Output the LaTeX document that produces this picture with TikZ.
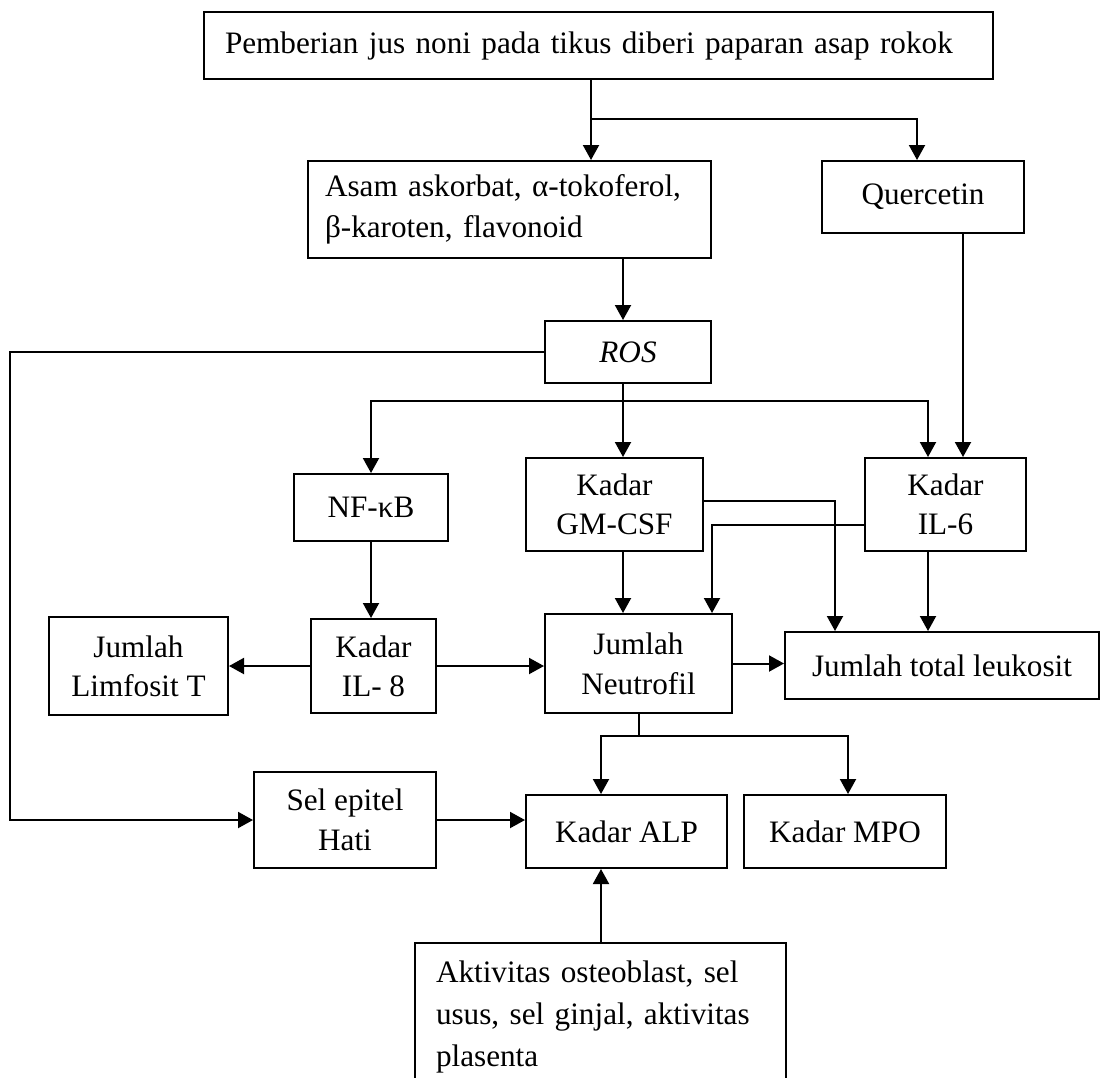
\documentclass[tikz,border=0pt]{standalone}
\usepackage{fontspec}
\setmainfont{Liberation Serif}
\usepackage{tikz}
\usetikzlibrary{positioning, arrows.meta}

\begin{document}
\begin{tikzpicture}[x=0.5pt, y=-0.5pt, line width=1pt, >={Triangle[length=7.5pt, width=8pt]},
  every node/.style={rectangle, draw, line width=1pt, inner sep=0pt, align=center, font=\fontsize{15.6pt}{19.5pt}\selectfont},
  leftbox/.style={align=left, inner xsep=10.5pt, inner ysep=0pt}]
\useasboundingbox (0,0) rectangle (1102,1077);

\node (top) [leftbox, text width=373.5pt, minimum height=33.5pt] at (598.5,45.5) {Pemberian jus noni pada tikus diberi paparan asap rokok};
\node (asam) [leftbox, inner xsep=8.5pt, text width=184.5pt, minimum height=48.5pt, font=\fontsize{15.6pt}{20.5pt}\selectfont] at (509.5,209.5) {Asam askorbat, α-tokoferol,\\β-karoten, flavonoid};
\node (quer) [minimum width=101pt, minimum height=36pt] at (923,197) {Quercetin};
\node (ros) [minimum width=83pt, minimum height=31pt] at (628,352) {\textit{ROS}};

\node (nfkb) [minimum width=77pt, minimum height=33.5pt] at (371,507.5) {NF-κB};
\node (gmcsf) [minimum width=88.5pt, minimum height=46.5pt] at (614.5,504.5) {Kadar\\GM-CSF};
\node (il6) [right=80pt of gmcsf, minimum width=80.5pt, minimum height=46.5pt] {Kadar\\IL-6};

\node (il8) [minimum width=62.5pt, minimum height=47pt] at (373.5,666) {Kadar\\IL- 8};
\node (limf) [left=40.5pt of il8, minimum width=89.5pt, minimum height=49pt] {Jumlah\\Limfosit T};
\node (neut) [minimum width=93.5pt, minimum height=49.5pt, font=\fontsize{15.6pt}{20pt}\selectfont] at (638.5,663.5) {Jumlah\\Neutrofil};
\node (leuk) [minimum width=157pt, minimum height=33.5pt] at (942,665.5) {Jumlah total leukosit};

\node (sel) [minimum width=91pt, minimum height=48pt, font=\fontsize{15.6pt}{20pt}\selectfont] at (345,820) {Sel epitel\\Hati};
\node (alp) [minimum width=100.5pt, minimum height=36.5pt] at (626.5,831.5) {Kadar ALP};
\node (mpo) [right=7.5pt of alp, minimum width=101pt, minimum height=36.5pt] {Kadar MPO};
\node (akt) [leftbox, text width=164.5pt, minimum height=74pt, font=\fontsize{15.6pt}{21pt}\selectfont] at (600.5,1017) {Aktivitas osteoblast, sel\\usus, sel ginjal, aktivitas\\plasenta};

% Junctions and line columns
\coordinate (j1) at (591,119);
\coordinate (qa) at (917,0);
\coordinate (mid) at (623,401);
\coordinate (qx) at (963,0);
\coordinate (ix) at (928,0);
\coordinate (gx) at (835,0);
\coordinate (nx) at (712,0);
\coordinate (nj) at (639,736);
\coordinate (ax) at (601,0);
\coordinate (mx) at (848,0);
\coordinate (lp) at (10,600);

% Arrows from the top
\draw (top.south -| j1) -- (j1);
\draw[->] (j1) -- (asam.north -| j1);
\draw[->] (j1) -| (quer.north -| qa);
\draw[->] (asam.south -| mid) -- (ros.north -| mid);

% Arrows from ROS
\draw (ros.south -| mid) -- (mid);
\draw[->] (mid) -| (nfkb.north);
\draw[->] (mid) -- (gmcsf.north -| mid);
\draw[->] (mid) -| (il6.north -| ix);
\draw[->] (quer.south -| qx) -- (il6.north -| qx);
\draw[->] (ros.west) -| (lp) |- (sel.west);

% Middle row
\draw[->] ([yshift=1.75pt]gmcsf.east) -| (leuk.north -| gx);
\draw[->] ([yshift=-10.25pt]il6.west) -| (neut.north -| nx);
\draw[->] (gmcsf.south -| mid) -- (neut.north -| mid);
\draw[->] (il6.south -| ix) -- (leuk.north -| ix);
\draw[->] (nfkb.south) -- (nfkb.south |- il8.north);
\draw[->] (il8.west) -- (il8.west -| limf.east);
\draw[->] (il8.east) -- (il8.east -| neut.west);
\draw[->] (neut.east) -- (neut.east -| leuk.west);

% Bottom row
\draw (neut.south -| nj) -- (nj);
\draw[->] (nj) -| (alp.north -| ax);
\draw[->] (nj) -| (mpo.north -| mx);
\draw[->] (sel.east) -- (sel.east -| alp.west);
\draw[->] (akt.north -| ax) -- (alp.south -| ax);

\end{tikzpicture}
\end{document}
